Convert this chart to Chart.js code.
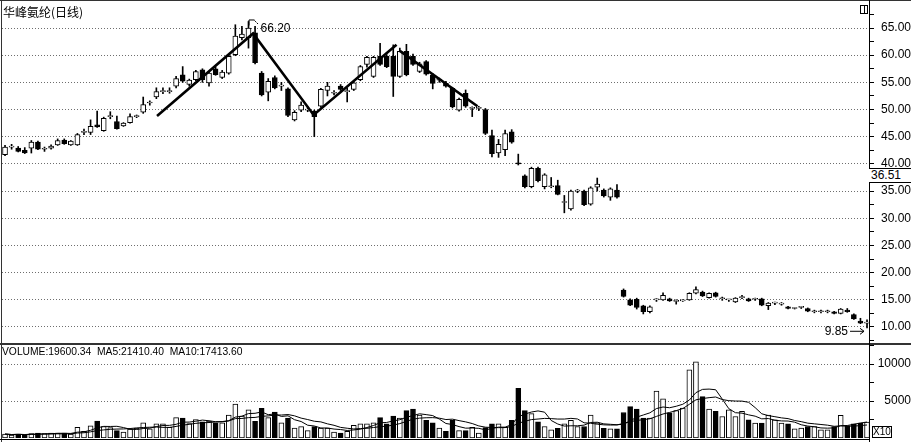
<!DOCTYPE html>
<html>
<head>
<meta charset="utf-8">
<script src="https://cdn.jsdelivr.net/npm/chart.js@4.4.1/dist/chart.umd.min.js"></script>
<style>
  body { margin: 0; background: #fff; }
  #wrap { position: relative; width: 911px; height: 442px; overflow: hidden; background: #fff;
          font-family: "Liberation Sans", Arial, sans-serif; color: #000; }
  #priceCanvas { position: absolute; left: 0; top: 0; }
  #volCanvas { position: absolute; left: 0; top: 345px; }
  .line { position: absolute; background: #333; }
  #title { position: absolute; left: 3px; top: 3px; font: 12px "Noto Sans CJK SC", sans-serif; }
  #volTitle { position: absolute; left: 2px; top: 346px; font-size: 10.3px; white-space: pre; }
  #lastBox { position: absolute; left: 869px; top: 168px; width: 42px; height: 15px; background: #fff;
             border-top: 1px solid #000; border-bottom: 1px solid #000; font-size: 12px; line-height: 13px;
             padding-left: 2px; box-sizing: border-box; }
  #x10 { position: absolute; left: 872px; top: 426px; width: 20px; height: 12px; border: 1px solid #000;
         box-sizing: border-box; font-size: 10px; line-height: 10px; text-align: center; background: #fff; }
  #icon { position: absolute; left: 860px; top: 5px; width: 8px; height: 9px; border: 1px solid #000; box-sizing: border-box; }
  #icon div { position: absolute; left: 3px; top: 0; width: 1px; height: 7px; background: #000; }
</style>
</head>
<body>
<div id="wrap">
  <canvas id="priceCanvas" width="911" height="343"></canvas>
  <canvas id="volCanvas" width="911" height="97"></canvas>
  <div class="line" style="left:0;top:0;width:911px;height:1px;"></div>
  <div class="line" style="left:1px;top:0;width:1px;height:442px;"></div>
  <div class="line" style="left:0;top:343px;width:911px;height:2px;"></div>
  <div class="line" style="left:869px;top:0;width:1px;height:442px;background:#000;"></div>
  <div class="line" style="left:0;top:439px;width:869px;height:1px;background:#000;"></div>
  <div id="title">华峰氨纶(日线)</div>
  <div id="icon"><div></div></div>
  <div id="volTitle">VOLUME:19600.34  MA5:21410.40  MA10:17413.60</div>
  <div id="lastBox">36.51</div>
  <div id="x10">X10</div>
</div>
<script>
// 日K线数据 (开/高/低/收)
const opens = [
  41.7,43.1,42.9,42.5,42.9,44.0,42.7,42.9,43.5,44.4,
  43.5,43.5,45.8,45.8,47.2,46.1,48.7,47.8,47.0,47.6,
  48.7,49.5,51.2,52.3,53.3,53.3,54.3,56.4,54.6,55.5,
  57.3,54.9,57.5,55.9,56.7,60.1,63.2,63.2,64.1,56.7,
  53.2,55.9,54.3,53.8,48.1,49.9,49.9,49.7,50.6,53.5,
  53.0,54.3,53.3,53.7,55.5,58.3,56.1,59.8,59.8,59.8,
  56.1,60.7,59.8,57.0,58.8,56.3,55.4,54.8,53.9,49.9,
  53.0,50.2,50.2,50.0,45.2,42.0,42.6,45.9,40.1,37.8,
  35.8,39.2,35.8,35.8,36.0,32.9,31.7,35.0,35.0,32.6,
  35.7,35.2,33.9,35.2,16.8,15.0,15.1,13.9,12.8,15.0,
  15.0,15.2,14.7,14.8,15.0,16.2,16.4,15.4,16.3,15.2,
  15.0,14.6,15.4,15.2,15.1,15.2,13.9,14.4,14.2,13.7,
  13.4,13.6,13.4,12.8,12.8,12.8,12.8,12.5,13.1,12.3,
  11.1,10.7
];
const highs = [
  43.4,43.6,43.2,43.0,44.3,44.2,43.1,43.5,44.6,44.6,
  44.3,45.6,46.4,48.1,49.7,48.6,49.6,48.8,47.6,49.2,
  49.0,52.3,51.6,54.0,54.0,54.0,56.1,57.9,55.6,57.2,
  57.5,57.0,57.8,57.2,60.0,65.6,65.3,66.2,65.3,57.0,
  55.7,56.2,55.0,54.0,49.8,51.4,50.5,49.9,53.9,55.0,
  53.5,54.6,54.0,55.1,58.1,59.8,59.8,62.2,60.1,61.9,
  61.3,62.0,60.2,58.7,59.0,56.6,55.8,55.2,54.1,52.1,
  53.6,50.5,50.6,50.2,46.2,44.5,46.2,46.3,41.8,38.0,
  39.4,39.4,38.2,37.5,37.0,34.2,35.2,35.3,35.2,35.8,
  37.4,35.4,35.6,36.2,17.0,15.2,15.3,14.0,13.9,15.2,
  16.3,15.3,15.0,15.0,16.3,17.4,16.6,16.3,16.4,15.5,
  15.1,15.4,15.8,15.3,15.3,15.3,14.5,14.6,14.5,13.8,
  13.5,13.8,13.5,13.1,13.1,13.1,12.9,13.4,13.4,12.4,
  11.6,11.3
];
const lows = [
  41.5,42.7,42.2,41.9,42.0,42.6,42.3,42.7,43.4,43.6,
  43.4,43.4,45.4,45.4,46.7,46.0,48.3,46.4,46.9,47.5,
  48.5,49.3,50.8,52.0,52.9,53.0,54.0,55.0,54.3,55.3,
  55.0,54.3,56.3,55.7,56.5,59.9,62.8,61.3,58.4,52.5,
  51.6,53.8,53.5,48.7,47.9,49.6,49.6,45.0,50.4,52.5,
  52.7,53.5,51.4,53.5,55.3,57.8,55.9,58.1,57.7,52.4,
  55.9,56.2,58.1,56.8,56.3,53.8,55.0,54.1,50.3,49.7,
  50.4,48.7,49.8,45.4,41.3,41.2,41.5,43.8,39.8,35.6,
  35.6,36.7,35.4,35.6,34.3,31.0,31.5,34.7,32.3,32.4,
  35.0,33.9,33.3,33.7,15.5,13.9,13.3,12.4,12.6,14.7,
  14.9,14.7,14.2,14.7,14.9,16.1,15.6,15.3,15.5,14.9,
  14.7,14.5,15.2,14.7,14.9,13.9,13.2,14.1,14.0,13.3,
  13.3,13.4,12.8,12.6,12.6,12.6,12.4,12.4,12.7,11.4,
  10.6,9.85
];
const closes = [
  43.1,43.1,42.3,42.0,44.0,42.7,42.7,43.3,44.3,43.7,
  44.2,45.4,45.8,46.9,46.8,48.4,48.7,46.5,47.5,48.7,
  48.7,50.9,51.2,53.3,53.3,53.3,55.7,55.2,55.4,57.0,
  55.5,56.7,56.4,56.9,59.8,63.5,63.9,65.0,58.6,52.7,
  55.2,54.0,54.3,48.9,49.5,50.8,49.9,48.7,53.7,54.3,
  53.0,53.7,53.3,54.9,57.9,59.6,59.6,58.3,57.9,56.1,
  60.7,56.4,58.3,58.4,56.5,54.8,55.4,54.3,50.5,51.9,
  50.6,50.2,50.2,45.6,41.9,43.6,45.6,44.0,40.0,35.8,
  39.2,36.9,38.0,35.8,34.4,32.9,35.0,35.0,32.5,35.6,
  36.3,34.1,35.4,33.9,15.6,14.0,13.6,12.8,13.7,15.0,
  15.8,14.8,14.7,14.8,16.2,16.9,15.7,16.2,15.6,15.2,
  15.0,15.3,15.4,14.8,15.1,14.0,14.4,14.4,14.2,13.4,
  13.4,13.6,12.9,12.8,12.8,12.8,12.5,13.3,12.8,11.5,
  10.7,10.7
];
// 成交量 (X10)
const volumes = [
  540,400,540,400,600,650,600,650,650,650,
  540,1450,900,1650,2300,1550,1400,1000,800,1200,
  1350,2050,1250,1900,1900,1450,2750,2700,1950,2500,
  2200,2300,2050,2050,3100,4600,2950,3800,2250,4000,
  2750,3500,2050,2700,1350,1530,1000,1530,1350,1350,
  800,680,900,1700,1900,1900,2050,2750,1900,2950,
  2700,3700,3900,3100,2400,2050,1350,900,2400,1000,
  1000,1450,680,1400,1900,1900,1450,2400,6700,3700,
  3300,2200,1550,1100,1300,1900,2400,1550,1550,3100,
  2050,1300,1250,1250,3450,4250,3900,2700,2700,6350,
  5300,3400,3700,4050,9200,10300,5600,3900,3600,2900,
  3800,2900,3600,2450,2000,2000,3100,2450,2000,1900,
  1250,1350,1550,1550,1100,1100,1550,3050,1650,1900,
  2000,2150
];
// 坐标刻度
const priceTicks = [7.5, 10, 12.5, 15, 17.5, 20, 22.5, 25, 27.5, 30, 32.5, 35, 37.5,
                    40, 42.5, 45, 47.5, 50, 52.5, 55, 57.5, 60, 62.5, 65, 67.5];
const volTicks = [2500, 5000, 7500, 10000, 12500];
// 趋势线 (K线序号, 价格)
const trendIdxA = [23.1, 37.7, 46.9, 59.5];
const trendPriceA = [48.8, 64.0, 49.0, 61.9];
const trendIdxB = [60.0, 71.8];
const trendPriceB = [60.8, 50.6];

Chart.defaults.font.family = '"Liberation Sans", Arial, sans-serif';
Chart.defaults.color = '#000';
Chart.defaults.animation = false;

const idx = closes.map((_, i) => i);
const isUp = idx.map(i => closes[i] >= opens[i]);
const fillColors = isUp.map(u => u ? '#fff' : '#000');

const xScale = { type: 'linear', min: -0.46, max: 131.3, display: false, offset: false };

function fixAxis(scale, w) {
  scale.width = w;
  scale.paddingTop = 0;
  scale.paddingBottom = 0;
}

// 最高价/最低价标注
const markPlugin = {
  id: 'marks',
  afterDatasetsDraw(chart) {
    const { ctx, scales: { x, y } } = chart;
    ctx.save();
    ctx.strokeStyle = '#000';
    ctx.fillStyle = '#000';
    ctx.lineWidth = 1;
    ctx.font = '12px "Liberation Sans", Arial, sans-serif';
    ctx.textBaseline = 'middle';

    const hi = Math.max(...highs);
    const hx = x.getPixelForValue(highs.indexOf(hi));
    const hy = y.getPixelForValue(hi);
    ctx.beginPath();
    ctx.moveTo(hx + 0.5, hy + 4);
    ctx.lineTo(hx + 0.5, hy - 1.5);
    ctx.lineTo(hx + 6, hy - 1.5);
    ctx.stroke();
    ctx.setLineDash([2, 1]);
    ctx.beginPath();
    ctx.moveTo(hx + 6, hy - 1);
    ctx.lineTo(hx + 10, hy + 3);
    ctx.stroke();
    ctx.setLineDash([]);
    ctx.textAlign = 'left';
    ctx.fillText(hi.toFixed(2), hx + 12, hy + 7);

    const lo = Math.min(...lows);
    const lx = x.getPixelForValue(lows.lastIndexOf(lo));
    const ly = y.getPixelForValue(lo) + 3.5;
    ctx.textAlign = 'right';
    ctx.fillText(lo.toFixed(2), lx - 19, ly);
    ctx.beginPath();
    ctx.moveTo(lx - 17, ly);
    ctx.lineTo(lx - 3, ly);
    ctx.moveTo(lx - 7, ly - 3);
    ctx.lineTo(lx - 3, ly);
    ctx.lineTo(lx - 7, ly + 3);
    ctx.stroke();
    ctx.restore();
  }
};

new Chart(document.getElementById('priceCanvas'), {
  type: 'bar',
  data: {
    datasets: [
      {
        type: 'line', order: 0,
        data: trendIdxA.map((v, i) => ({ x: v, y: trendPriceA[i] })),
        borderColor: '#000', borderWidth: 2.6, pointRadius: 0, fill: false, tension: 0
      },
      {
        type: 'line', order: 0,
        data: trendIdxB.map((v, i) => ({ x: v, y: trendPriceB[i] })),
        borderColor: '#000', borderWidth: 2.6, pointRadius: 0, fill: false, tension: 0
      },
      {
        order: 1, grouped: false,
        data: idx.map(i => ({ x: i, y: [Math.min(opens[i], closes[i]), Math.max(opens[i], closes[i])] })),
        barThickness: 5, minBarLength: 1,
        backgroundColor: fillColors, borderColor: '#000', borderWidth: 1, borderSkipped: false
      },
      {
        order: 2, grouped: false,
        data: idx.map(i => ({ x: i, y: [lows[i], highs[i]] })),
        barThickness: 1, backgroundColor: '#000', borderWidth: 0
      }
    ]
  },
  options: {
    responsive: false,
    events: [],
    layout: { padding: { left: 2, right: 0, top: 2, bottom: 1 } },
    plugins: { legend: { display: false }, tooltip: { enabled: false } },
    scales: {
      x: xScale,
      y: {
        position: 'right',
        min: 7.237, max: 69.783,
        afterFit: s => fixAxis(s, 42),
        afterBuildTicks: s => { s.ticks = priceTicks.map(v => ({ value: v })); },
        ticks: {
          autoSkip: false, crossAlign: 'far', padding: 3, font: { size: 12 },
          callback: v => (v % 5 === 0 ? v.toFixed(2) : '')
        },
        grid: {
          color: c => (c.tick && c.tick.value % 5 === 0 ? '#6e6e6e' : 'rgba(0,0,0,0)'),
          tickColor: '#000', tickLength: 5, lineWidth: 1
        },
        border: { display: true, color: '#000', dash: [1, 2] }
      }
    }
  },
  plugins: [markPlugin]
});

function movingAvg(arr, n) {
  return arr.map((_, i) => {
    const part = arr.slice(Math.max(0, i - n + 1), i + 1);
    return part.reduce((a, b) => a + b, 0) / part.length;
  });
}
const ma5 = movingAvg(volumes, 5);
const ma10 = movingAvg(volumes, 10);

new Chart(document.getElementById('volCanvas'), {
  type: 'bar',
  data: {
    datasets: [
      {
        type: 'line', order: 0,
        data: idx.map(i => ({ x: i, y: ma5[i] })),
        borderColor: '#000', borderWidth: 1, pointRadius: 0, fill: false, tension: 0
      },
      {
        type: 'line', order: 0,
        data: idx.map(i => ({ x: i, y: ma10[i] })),
        borderColor: '#000', borderWidth: 1, pointRadius: 0, fill: false, tension: 0
      },
      {
        order: 1, grouped: false,
        data: idx.map(i => ({ x: i, y: volumes[i] })),
        barThickness: 5,
        backgroundColor: fillColors, borderColor: '#000', borderWidth: 1, borderSkipped: false
      }
    ]
  },
  options: {
    responsive: false,
    events: [],
    layout: { padding: { left: 2, right: 0, top: 0, bottom: 4 } },
    plugins: { legend: { display: false }, tooltip: { enabled: false } },
    scales: {
      x: xScale,
      y: {
        position: 'right',
        min: 0, max: 12568,
        afterFit: s => fixAxis(s, 42),
        afterBuildTicks: s => { s.ticks = volTicks.map(v => ({ value: v })); },
        ticks: {
          autoSkip: false, crossAlign: 'far', padding: 1, font: { size: 12 },
          callback: v => (v % 5000 === 0 ? String(v) : '')
        },
        grid: {
          color: c => (c.tick && c.tick.value % 5000 === 0 ? '#6e6e6e' : 'rgba(0,0,0,0)'),
          tickColor: '#000', tickLength: 5, lineWidth: 1
        },
        border: { display: true, color: '#000', dash: [1, 2] }
      }
    }
  }
});
</script>
</body>
</html>
